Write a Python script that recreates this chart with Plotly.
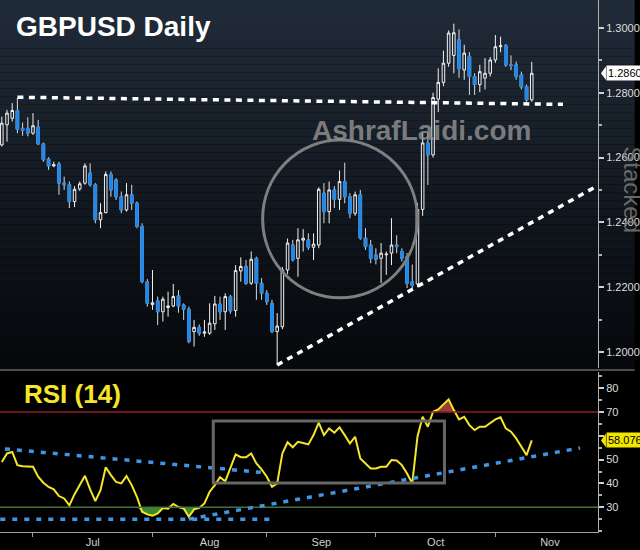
import numpy as np
import pandas as pd
import plotly.graph_objects as go

# ---------------- data ----------------
dates = pd.bdate_range("2019-06-20", periods=103)

open_ = [1.2639, 1.2701, 1.2721, 1.2745, 1.2690, 1.2690, 1.2675, 1.2694, 1.2642, 1.2595,
         1.2574, 1.2580, 1.2521, 1.2516, 1.2464, 1.2503, 1.2521, 1.2552, 1.2516, 1.2408,
         1.2430, 1.2548, 1.2531, 1.2479, 1.2438, 1.2485, 1.2459, 1.2387, 1.2217, 1.2146,
         1.2158, 1.2124, 1.2137, 1.2142, 1.2173, 1.2145, 1.2132, 1.2063, 1.2076, 1.2058,
         1.2058, 1.2087, 1.2148, 1.2124, 1.2171, 1.2128, 1.2250, 1.2264, 1.2212, 1.2289,
         1.2212, 1.2181, 1.2150, 1.2063, 1.2078, 1.2253, 1.2330, 1.2289, 1.2345, 1.2346,
         1.2323, 1.2330, 1.2490, 1.2433, 1.2500, 1.2471, 1.2526, 1.2479, 1.2428, 1.2485,
         1.2351, 1.2330, 1.2299, 1.2289, 1.2300, 1.2305, 1.2330, 1.2310, 1.2294, 1.2217,
         1.2210, 1.2440, 1.2645, 1.2608, 1.2780, 1.2832, 1.2891, 1.2915, 1.2963, 1.2870,
         1.2912, 1.2850, 1.2825, 1.2845, 1.2860, 1.2901, 1.2942, 1.2945, 1.2886, 1.2886,
         1.2855, 1.2819, 1.2778]
high = [1.2726, 1.2747, 1.2768, 1.2784, 1.2708, 1.2724, 1.2737, 1.2716, 1.2646, 1.2601,
        1.2587, 1.2587, 1.2541, 1.2526, 1.2512, 1.2526, 1.2582, 1.2582, 1.2521, 1.2459,
        1.2557, 1.2557, 1.2536, 1.2495, 1.2521, 1.2516, 1.2464, 1.2397, 1.2225, 1.2253,
        1.2171, 1.2171, 1.2186, 1.2210, 1.2191, 1.2150, 1.2140, 1.2099, 1.2085, 1.2099,
        1.2150, 1.2173, 1.2171, 1.2181, 1.2176, 1.2268, 1.2292, 1.2284, 1.2310, 1.2294,
        1.2228, 1.2191, 1.2161, 1.2120, 1.2262, 1.2350, 1.2346, 1.2382, 1.2379, 1.2366,
        1.2366, 1.2508, 1.2521, 1.2526, 1.2512, 1.2560, 1.2584, 1.2490, 1.2495, 1.2500,
        1.2382, 1.2346, 1.2320, 1.2336, 1.2310, 1.2413, 1.2360, 1.2320, 1.2305, 1.2270,
        1.2460, 1.2676, 1.2676, 1.2800, 1.2875, 1.2930, 1.2992, 1.3013, 1.2995, 1.2948,
        1.2925, 1.2860, 1.2886, 1.2907, 1.2910, 1.2978, 1.2973, 1.2950, 1.2915, 1.2896,
        1.2865, 1.2825, 1.2895]
low = [1.2634, 1.2649, 1.2711, 1.2675, 1.2667, 1.2665, 1.2670, 1.2639, 1.2587, 1.2562,
       1.2570, 1.2485, 1.2500, 1.2444, 1.2447, 1.2497, 1.2516, 1.2510, 1.2397, 1.2382,
       1.2428, 1.2479, 1.2469, 1.2428, 1.2433, 1.2438, 1.2382, 1.2212, 1.2140, 1.2130,
       1.2083, 1.2094, 1.2109, 1.2138, 1.2121, 1.2099, 1.2027, 1.2017, 1.2050, 1.2047,
       1.2053, 1.2068, 1.2099, 1.2068, 1.2118, 1.2109, 1.2217, 1.2207, 1.2207, 1.2161,
       1.2161, 1.2145, 1.2058, 1.1960, 1.2070, 1.2240, 1.2279, 1.2232, 1.2310, 1.2315,
       1.2284, 1.2320, 1.2397, 1.2397, 1.2444, 1.2438, 1.2459, 1.2413, 1.2420, 1.2346,
       1.2315, 1.2274, 1.2270, 1.2212, 1.2238, 1.2268, 1.2305, 1.2279, 1.2197, 1.2196,
       1.2200, 1.2420, 1.2515, 1.2600, 1.2740, 1.2820, 1.2880, 1.2860, 1.2846, 1.2840,
       1.2793, 1.2793, 1.2802, 1.2810, 1.2850, 1.2892, 1.2925, 1.2880, 1.2870, 1.2840,
       1.2810, 1.2772, 1.2772]
close = [1.2706, 1.2737, 1.2745, 1.2687, 1.2684, 1.2675, 1.2698, 1.2642, 1.2593, 1.2574,
         1.2578, 1.2521, 1.2516, 1.2464, 1.2502, 1.2519, 1.2574, 1.2516, 1.2408, 1.2430,
         1.2548, 1.2500, 1.2479, 1.2438, 1.2485, 1.2459, 1.2387, 1.2217, 1.2150, 1.2152,
         1.2124, 1.2163, 1.2142, 1.2171, 1.2142, 1.2132, 1.2032, 1.2076, 1.2058, 1.2062,
         1.2089, 1.2148, 1.2124, 1.2171, 1.2127, 1.2251, 1.2264, 1.2212, 1.2286, 1.2212,
         1.2181, 1.2155, 1.2063, 1.2080, 1.2253, 1.2336, 1.2284, 1.2346, 1.2351, 1.2323,
         1.2333, 1.2502, 1.2433, 1.2500, 1.2471, 1.2526, 1.2479, 1.2428, 1.2485, 1.2351,
         1.2325, 1.2289, 1.2286, 1.2305, 1.2302, 1.2330, 1.2325, 1.2289, 1.2212, 1.2205,
         1.2440, 1.2645, 1.2608, 1.2785, 1.2832, 1.2891, 1.2984, 1.2985, 1.2875, 1.2922,
         1.2850, 1.2825, 1.2865, 1.2860, 1.2901, 1.2942, 1.2945, 1.2886, 1.2884, 1.2850,
         1.2818, 1.2778, 1.2860]
rsi = [49.0, 52.6, 53.2, 47.7, 47.2, 47.2, 47.0, 42.8, 40.3, 38.5,
       37.5, 34.7, 33.7, 30.8, 35.5, 39.3, 43.2, 37.5, 32.6, 37.2,
       46.8, 43.5, 40.6, 40.0, 43.1, 39.3, 34.4, 28.1, 27.0, 26.4,
       27.4, 29.7, 29.4, 31.4, 30.1, 29.5, 26.0, 29.1, 29.7, 31.6,
       36.5, 39.3, 42.6, 40.9, 46.3, 52.2, 51.0, 51.0, 52.6, 48.4,
       45.9, 42.8, 38.6, 40.0, 52.6, 57.3, 55.2, 57.5, 57.0, 56.4,
       60.3, 65.5, 60.3, 63.1, 61.3, 63.6, 60.3, 56.8, 59.6, 50.5,
       48.4, 46.3, 46.3, 47.0, 47.0, 49.8, 49.6, 47.7, 44.2, 40.0,
       59.6, 68.0, 63.8, 70.1, 71.1, 73.2, 75.3, 70.8, 66.9, 68.0,
       64.5, 62.4, 63.8, 63.8, 65.2, 66.9, 67.8, 63.1, 61.7, 58.9,
       55.4, 51.9, 58.076]

price_ticks = [1.20, 1.22, 1.24, 1.26, 1.28, 1.30]
price_tick_labels = ["1.2000", "1.2200", "1.2400", "1.2600", "1.2800", "1.3000"]
rsi_ticks = [30, 40, 50, 60, 70, 80]
rsi_tick_labels = ["30", "40", "50", "", "70", "80"]   # 60 sits under the last-value tag
month_labels = ["Jul", "Aug", "Sep", "Oct", "Nov"]
last_price = 1.2860
last_rsi = 58.076
rsi_upper, rsi_lower = 70, 30

# ---------------- positions ----------------
n = len(dates)
x = np.arange(n)
cal = pd.bdate_range("2019-06-20", "2019-12-31")
month_ends = [cal[cal.month == m][-1] for m in (6, 7, 8, 9, 10, 11)]
bounds = [int(cal.get_loc(d)) for d in month_ends]
tick_pos = bounds[:-1]
label_pos = [(bounds[i] + bounds[i + 1]) / 2 for i in range(5)]

XR = [-0.35, 114.75]
PLOT_W = 603.0
H_PLOT = 532.0
def py(p):  # pixel y (from top) -> paper
    return (H_PLOT - p) / H_PLOT

BLUE = "#2088ea"

fig = go.Figure()
# wicks + hollow white bodies
fig.add_trace(go.Candlestick(
    x=x, open=open_, high=high, low=low, close=close,
    increasing=dict(line=dict(color="#f2f2f2", width=1), fillcolor="rgba(0,0,0,0)"),
    decreasing=dict(line=dict(color="#d8d8d8", width=1), fillcolor=BLUE),
    whiskerwidth=0, xaxis="x", yaxis="y", hoverinfo="skip"))
# blue bodies on top (no wicks)
body_hi = np.maximum(open_, close)
body_lo = np.minimum(open_, close)
fig.add_trace(go.Candlestick(
    x=x, open=open_, high=body_hi, low=body_lo, close=close,
    increasing=dict(line=dict(color="rgba(0,0,0,0)", width=1), fillcolor="rgba(0,0,0,0)"),
    decreasing=dict(line=dict(color=BLUE, width=1), fillcolor=BLUE),
    whiskerwidth=0, xaxis="x", yaxis="y", hoverinfo="skip"))

# RSI fills
rsi_arr = np.array(rsi)
fig.add_trace(go.Scatter(x=x, y=[rsi_lower] * n, mode="lines", line=dict(width=0, color="rgba(0,0,0,0)"),
                         xaxis="x2", yaxis="y2", hoverinfo="skip"))
fig.add_trace(go.Scatter(x=x, y=np.minimum(rsi_arr, rsi_lower), mode="lines", fill="tonexty",
                         fillcolor="rgba(60,145,50,0.95)", line=dict(width=0, color="rgba(0,0,0,0)"),
                         xaxis="x2", yaxis="y2", hoverinfo="skip"))
fig.add_trace(go.Scatter(x=x, y=[rsi_upper] * n, mode="lines", line=dict(width=0, color="rgba(0,0,0,0)"),
                         xaxis="x2", yaxis="y2", hoverinfo="skip"))
fig.add_trace(go.Scatter(x=x, y=np.maximum(rsi_arr, rsi_upper), mode="lines", fill="tonexty",
                         fillcolor="rgba(160,65,60,0.95)", line=dict(width=0, color="rgba(0,0,0,0)"),
                         xaxis="x2", yaxis="y2", hoverinfo="skip"))

shapes = []
# top panel gradient background
N = 46
top_c = np.array([33, 44, 57])
bot_c = np.array([6, 8, 11])
for i in range(N):
    t0 = i / N
    t1 = (i + 1) / N
    c = top_c + (bot_c - top_c) * (t0 + t1) / 2
    shapes.append(dict(type="rect", xref="paper", yref="paper", x0=0, x1=640 / PLOT_W,
                       y0=py(369 * t1), y1=py(369 * t0), line=dict(width=0),
                       fillcolor="rgb(%d,%d,%d)" % tuple(c.astype(int)), layer="below"))
# panel separator
shapes.append(dict(type="line", xref="paper", yref="paper", x0=0, x1=640 / PLOT_W,
                   y0=py(370), y1=py(370), line=dict(color="#4d4d4d", width=2)))
# RSI 70 / 30 lines
shapes.append(dict(type="line", xref="paper", yref="y2", x0=0, x1=1, y0=rsi_upper, y1=rsi_upper,
                   line=dict(color="#8c1f22", width=1.5)))
shapes.append(dict(type="line", xref="paper", yref="y2", x0=0, x1=1, y0=rsi_lower, y1=rsi_lower,
                   line=dict(color="#46703c", width=1.5)))

# price trend lines (white dotted)
WDASH = dict(color="white", width=3.5, dash="6px,5.5px")
shapes.append(dict(type="line", xref="x", yref="y", x0=3, y0=1.2786, x1=108, y1=1.2764, line=WDASH))
shapes.append(dict(type="line", xref="x", yref="y", x0=53, y0=1.1960, x1=114.2, y1=1.2509, line=WDASH))
# grey circle
shapes.append(dict(type="circle", xref="x", yref="y", x0=50.2, x1=80.0, y0=1.2167, y1=1.2654,
                   line=dict(color="#7f7f7f", width=3)))

# RSI blue dotted lines
BDASH = dict(color="#3f95e6", width=3.5, dash="5px,7px")
shapes.append(dict(type="line", xref="x2", yref="y2", x0=0.6, y0=54.5, x1=50.6, y1=44.5, line=BDASH))
shapes.append(dict(type="line", xref="x2", yref="y2", x0=-0.3, y0=25, x1=52.7, y1=25, line=BDASH))
shapes.append(dict(type="line", xref="x2", yref="y2", x0=36.0, y0=25, x1=111.3, y1=54.9, line=BDASH))
# grey box
shapes.append(dict(type="rect", xref="x2", yref="y2", x0=40.7, x1=85.2, y0=40.2, y1=66.2,
                   line=dict(color="#666666", width=3)))

# last-value markers (pointer triangles)
px1 = 1 / PLOT_W
shapes.append(dict(type="path", xref="paper", yref="y",
                   path="M %f,%f L %f,%f L %f,%f Z" % (1 + 3 * px1, last_price, 1 + 8 * px1, last_price + 0.0021,
                                                       1 + 8 * px1, last_price - 0.0021),
                   fillcolor="white", line=dict(width=0)))
shapes.append(dict(type="path", xref="paper", yref="y2",
                   path="M %f,%f L %f,%f L %f,%f Z" % (1 + 3 * px1, last_rsi, 1 + 8 * px1, last_rsi + 2.9,
                                                       1 + 8 * px1, last_rsi - 2.9),
                   fillcolor="#f2e600", line=dict(width=0)))

# RSI line
fig.add_trace(go.Scatter(x=x, y=rsi, mode="lines", line=dict(color="#f5e628", width=2),
                         xaxis="x2", yaxis="y2", hoverinfo="skip"))

FONT = "Arial, Liberation Sans, sans-serif"
annotations = [
    dict(text="<b>GBPUSD Daily</b>", xref="paper", yref="paper", x=14 / PLOT_W, y=py(26),
         xanchor="left", yanchor="middle", showarrow=False,
         font=dict(family=FONT, size=28, color="white")),
    dict(text="<b>RSI (14)</b>", xref="paper", yref="paper", x=22 / PLOT_W, y=py(394),
         xanchor="left", yanchor="middle", showarrow=False,
         font=dict(family=FONT, size=26, color="#f5e628")),
    dict(text="<b>AshrafLaidi.com</b>", xref="paper", yref="paper", x=425 / PLOT_W, y=py(130),
         xanchor="center", yanchor="middle", showarrow=False,
         font=dict(family=FONT, size=28, color="rgba(150,150,150,0.8)")),
    dict(text="Stacked", xref="paper", yref="paper", x=637 / PLOT_W, y=py(190), textangle=90,
         xanchor="center", yanchor="middle", showarrow=False,
         font=dict(family=FONT, size=24, color="rgba(120,120,120,0.85)")),
    dict(text="%.4f" % last_price, xref="paper", yref="y", x=1 + 8 * px1, y=last_price,
         xanchor="left", yanchor="middle", showarrow=False, bgcolor="white", borderpad=1,
         font=dict(family=FONT, size=11, color="black")),
    dict(text="%.3f" % last_rsi, xref="paper", yref="y2", x=1 + 8 * px1, y=last_rsi,
         xanchor="left", yanchor="middle", showarrow=False, bgcolor="#f2e600", borderpad=1,
         font=dict(family=FONT, size=11, color="black")),
]

fig.update_layout(
    width=640, height=550, margin=dict(l=0, r=37, t=0, b=18),
    paper_bgcolor="black", plot_bgcolor="rgba(0,0,0,0)", showlegend=False,
    font=dict(family=FONT, color="#d8d8d8"),
    xaxis=dict(domain=[0, 1], anchor="y", range=XR, showticklabels=False, ticks="",
               showgrid=False, zeroline=False, showline=False, rangeslider=dict(visible=False)),
    yaxis=dict(domain=[py(368), 1], anchor="x", side="right", range=[1.19506, 1.3086],
               tickmode="array", tickvals=price_ticks, ticktext=price_tick_labels,
               ticks="outside", ticklen=5, tickwidth=2, tickcolor="#d0d0d0",
               showline=True, linecolor="#b0b0b0", linewidth=1, showgrid=False, zeroline=False,
               tickfont=dict(size=11, color="#dedede"),
               minor=dict(dtick=0.01, tick0=1.19, ticks="outside", ticklen=3, tickcolor="#b0b0b0")),
    xaxis2=dict(domain=[0, 1], anchor="y2", range=XR, tickmode="array", tickvals=label_pos,
                ticktext=month_labels, ticks="outside", ticklen=0, showgrid=False, zeroline=False,
                showline=True, linecolor="#a0a0a0", linewidth=1, tickfont=dict(size=11, color="#cfcfcf"),
                minor=dict(tickmode="array", tickvals=tick_pos, ticks="outside", ticklen=4,
                           tickcolor="#a0a0a0", showgrid=False),
                rangeslider=dict(visible=False)),
    yaxis2=dict(domain=[0, py(372)], anchor="x2", side="right", range=[19.6, 86.8],
                tickmode="array", tickvals=rsi_ticks, ticktext=rsi_tick_labels,
                ticks="outside", ticklen=5, tickwidth=2, tickcolor="#d0d0d0",
                showline=True, linecolor="#b0b0b0", linewidth=1, showgrid=False, zeroline=False,
                tickfont=dict(size=11, color="#dedede"),
                minor=dict(dtick=5, tick0=20, ticks="outside", ticklen=3, tickcolor="#b0b0b0")),
    shapes=shapes, annotations=annotations,
)

fig.write_html("out.html", config={"displayModeBar": False},
               post_script="document.body.style.margin='0';document.body.style.overflow='hidden';")
